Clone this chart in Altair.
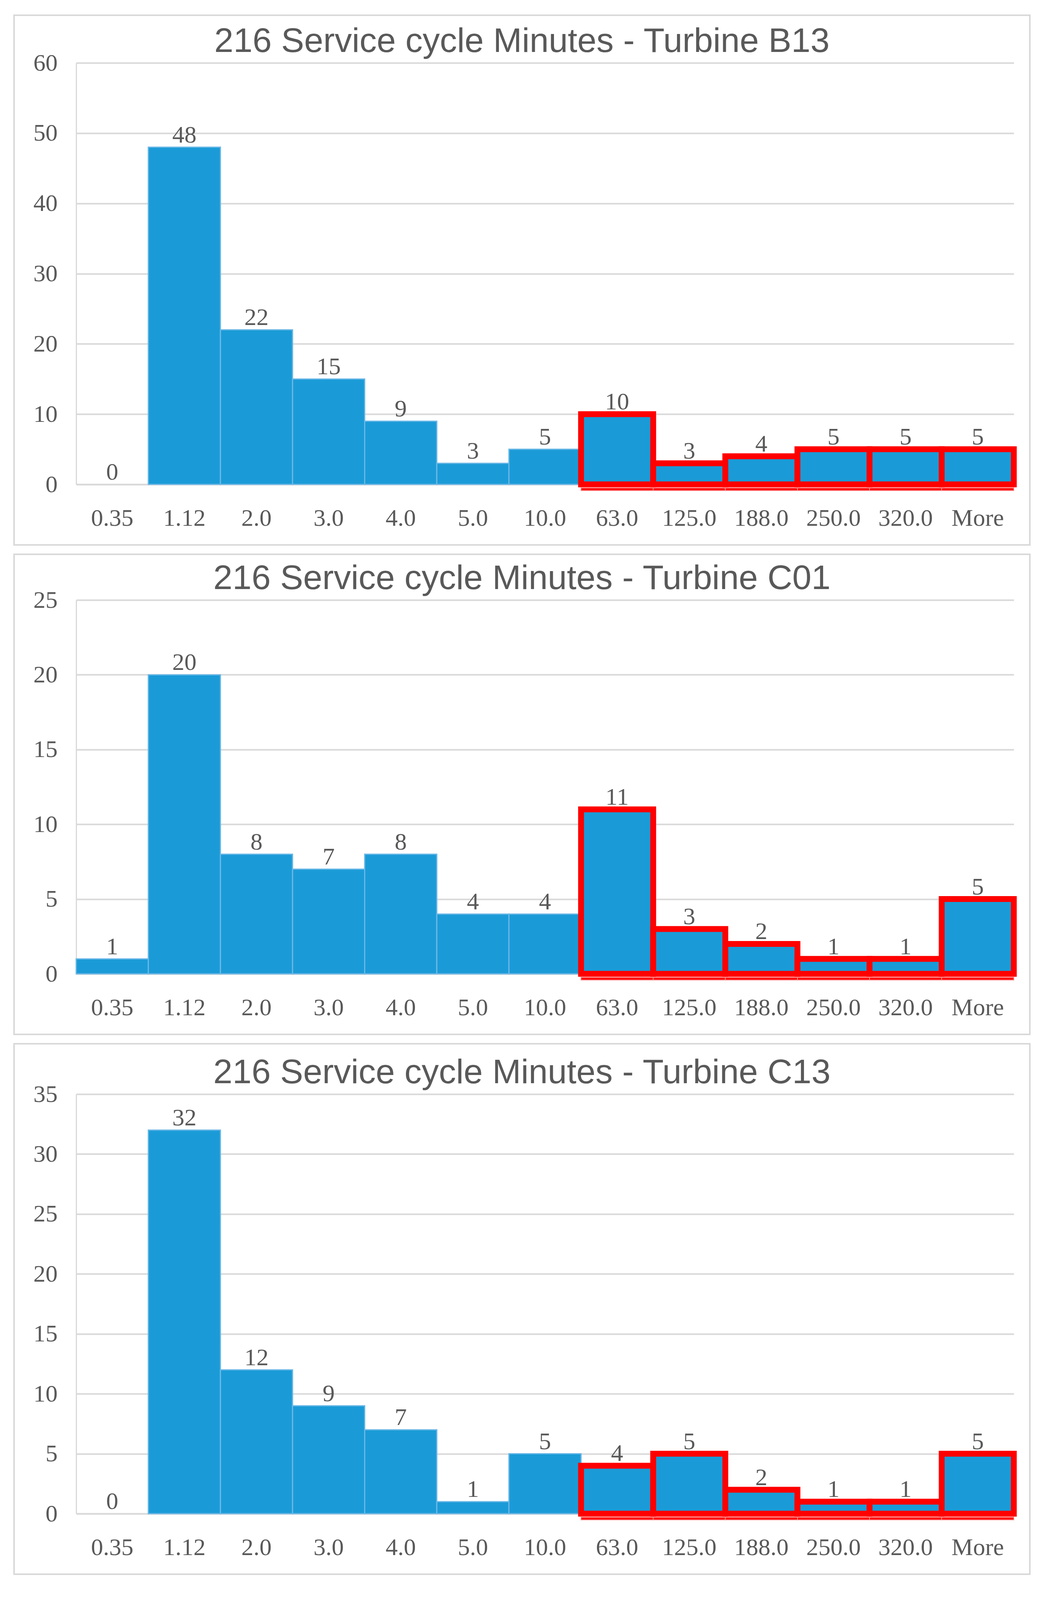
import altair as alt
import pandas as pd

# ---- data ----
bins = ["0.35", "1.12", "2.0", "3.0", "4.0", "5.0", "10.0",
        "63.0", "125.0", "188.0", "250.0", "320.0", "More"]
b13 = [0, 48, 22, 15, 9, 3, 5, 10, 3, 4, 5, 5, 5]
c01 = [1, 20, 8, 7, 8, 4, 4, 11, 3, 2, 1, 1, 5]
c13 = [0, 32, 12, 9, 7, 1, 5, 4, 5, 2, 1, 1, 5]
titles = ["216 Service cycle Minutes - Turbine B13",
          "216 Service cycle Minutes - Turbine C01",
          "216 Service cycle Minutes - Turbine C13"]
y_max = [60, 25, 35]
y_step = [10, 5, 5]
highlight_start = "63.0"

# ---- style ----
BLUE = "#1a9bd7"
EDGE = "#6cb8e6"
RED = "#ff0000"
GRAY = "#595959"
GRID = "#d9d9d9"
SERIF = "Liberation Serif"
SANS = "Liberation Sans"

W = 2400
heights = [1079, 957, 1074]
tops = [122, 117, 129]
BOTTOM = 155
LABEL = 62


def panel(counts, title, ymax, step, H, top):
    hl = bins[bins.index(highlight_start):]
    df = pd.DataFrame({"bin": bins, "count": counts,
                       "hl": [b in hl for b in bins]})
    base = alt.Chart(df)
    xenc = alt.X("bin:N", sort=bins,
                 scale=alt.Scale(paddingInner=0, paddingOuter=0),
                 axis=alt.Axis(title=None, labelAngle=0, ticks=False, tickSize=0,
                               labelPadding=56, domain=True, domainColor=GRID,
                               domainWidth=4, grid=False, labelFont=SERIF,
                               labelFontSize=LABEL, labelColor=GRAY))
    xs = alt.X("bin:N", sort=bins)
    yenc = alt.Y("count:Q",
                 scale=alt.Scale(domain=[0, ymax], nice=False, zero=True),
                 axis=alt.Axis(title=None, values=list(range(0, ymax + 1, step)),
                               ticks=False, tickSize=0, labelPadding=48,
                               domain=True, domainColor=GRID, domainWidth=3,
                               grid=True, gridColor=GRID, gridWidth=4,
                               labelFont=SERIF, labelFontSize=LABEL, labelColor=GRAY))

    one = alt.Chart(pd.DataFrame({"k": [0]}))
    frame = one.mark_rect(
        fill="white", fillOpacity=0, stroke=GRID, strokeWidth=4
    ).encode(x=alt.value(-159), x2=alt.value(W + 41),
             y=alt.value(-top), y2=alt.value(H + BOTTOM))

    head = one.mark_text(
        font=SANS, fontSize=88, color=GRAY, align="center", baseline="alphabetic"
    ).encode(x=alt.value(W / 2 - 59), y=alt.value(-28), text=alt.value(title))

    bars = base.transform_filter("!datum.hl && datum.count > 0").mark_bar(
        color=BLUE, stroke=EDGE, strokeWidth=3
    ).encode(x=xenc, y=yenc)

    red = base.transform_filter("datum.hl").mark_bar(
        color=BLUE, stroke=RED, strokeWidth=15
    ).encode(x=xs, y="count:Q")

    under = base.transform_filter("datum.hl").mark_bar(
        color=RED, stroke="#ff9090", strokeWidth=2
    ).encode(x=xs, y=alt.value(H + 9), y2=alt.value(H + 16))

    labels = base.mark_text(
        font=SERIF, fontSize=LABEL, color=GRAY, baseline="alphabetic", dy=-12
    ).encode(x=xs, y="count:Q", text="count:Q")

    return alt.layer(frame, head, bars, red, under, labels).properties(
        width=W, height=H
    )


charts = [panel(c, t, m, s, h, tp) for c, t, m, s, h, tp in
          zip([b13, c01, c13], titles, y_max, y_step, heights, tops)]

chart = alt.vconcat(*charts, spacing=20).properties(
    padding={"left": 26, "top": 29, "right": 0, "bottom": 0}
).configure_view(stroke=None)

chart.save("out.html", embed_options={"renderer": "svg", "actions": False})
